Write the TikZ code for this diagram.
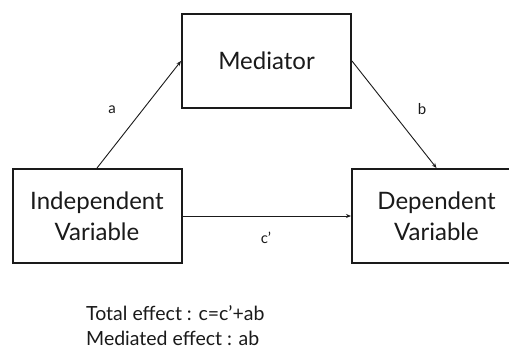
\documentclass[tikz,border=0pt]{standalone}
\usepackage{fontspec}
\setmainfont{Lato}
\usetikzlibrary{arrows.meta}
\definecolor{ink}{HTML}{1A1A1A}
\tikzset{
  box/.style={draw=ink, line width=2pt, rectangle, minimum width=169pt, minimum height=94pt, inner sep=0pt, align=center, text=ink, font=\fontsize{24}{31}\selectfont},
  conn/.style={draw=ink, line width=0.9pt, -{Stealth[length=5pt,width=4pt]}},
  lbl/.style={text=ink, font=\fontsize{15}{16}\selectfont, inner sep=0pt},
  note/.style={text=ink, font=\fontsize{19.5}{25}\selectfont, align=left, inner sep=0pt, anchor=north west}
}
\begin{document}
\begin{tikzpicture}[x=1pt,y=-1pt]
\useasboundingbox (0,0) rectangle (509,349);
\clip (0,0) rectangle (509,349);
\fill[white] (0,0) rectangle (509,349);
\node[box] (med) at (266.5,61) {Mediator};
\node[box] (iv) at (97,216) {Independent\\Variable};
\node[box] (dv) at (436.5,216) {Dependent\\Variable};
\draw[conn] (iv.north) -- (med.west);
\draw[conn] (med.east) -- (dv.north);
\draw[conn] (iv.east) -- (dv.west);
\node[lbl] (la) at (112,110) {a};
\node[lbl] (lb) at (422,109) {b};
\node[lbl] (lc) at (266,238) {c’};
\node[note] (n) at (86,305) {Total effect : c=c’+ab\\Mediated effect : ab};
\end{tikzpicture}
\end{document}
